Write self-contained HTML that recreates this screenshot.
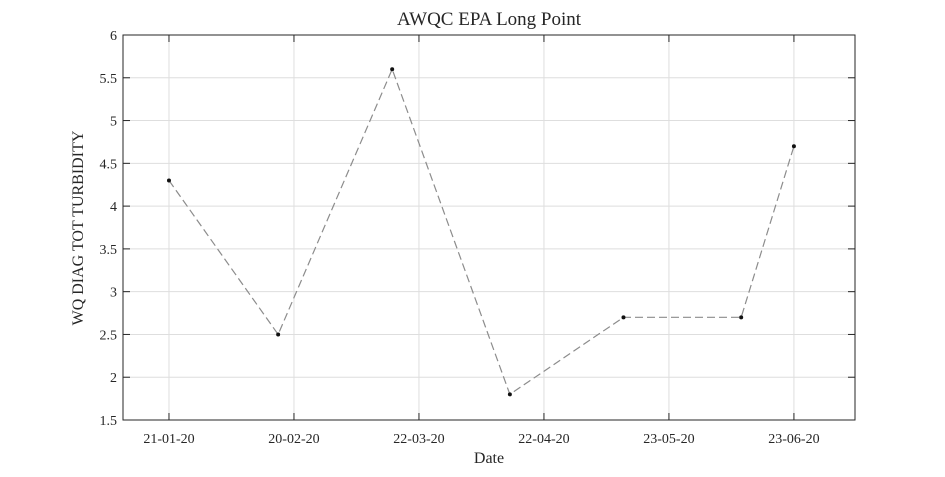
<!DOCTYPE html>
<html><head><meta charset="utf-8"><style>
html,body{margin:0;padding:0;background:#fff;}
svg text{font-family:"Liberation Serif",serif;fill:#262626;}
</style></head><body>
<svg id="chart" width="945" height="472" viewBox="0 0 945 472">
<rect x="0" y="0" width="945" height="472" fill="#fff"/>
<text x="489" y="25" font-size="19" text-anchor="middle">AWQC EPA Long Point</text>
<text x="489" y="463" font-size="16" text-anchor="middle">Date</text>
<text transform="translate(83,228) rotate(-90)" font-size="16" text-anchor="middle">WQ DIAG TOT TURBIDITY</text>
<g id="grid"></g><g id="axes"></g><g id="series"></g>
</svg>
<script>
// days since 2020-01-01 (day 0 = Jan 1)
const dates = [20, 46.9, 75, 104, 132, 161, 174];
const values = [4.3, 2.5, 5.6, 1.8, 2.7, 2.7, 4.7];
const xTicks = [20, 50.8, 81.6, 112.4, 143.2, 174];
const xTickLabels = ["21-01-20","20-02-20","22-03-20","22-04-20","23-05-20","23-06-20"];
const yTicks = [1.5,2,2.5,3,3.5,4,4.5,5,5.5,6];
const yTickLabels = ["1.5","2","2.5","3","3.5","4","4.5","5","5.5","6"];

const L=123,R=855,T=35,B=420;
const xMin=8.67,xMax=189.05,yMin=1.5,yMax=6;
const xs=d=>L+(d-xMin)/(xMax-xMin)*(R-L);
const ys=v=>B-(v-yMin)/(yMax-yMin)*(B-T);
const NS="http://www.w3.org/2000/svg";
function mk(tag,attrs,parent){const e=document.createElementNS(NS,tag);for(const k in attrs)e.setAttribute(k,attrs[k]);parent.appendChild(e);return e;}
const grid=document.getElementById('grid'),axes=document.getElementById('axes'),series=document.getElementById('series');
xTicks.forEach((t,i)=>{
  const x=xs(t);
  let g=mk('line',{x1:x,x2:x,y1:T,y2:B,stroke:'#dedede','stroke-width':1},grid);
  
  
  mk('line',{x1:x,x2:x,y1:B,y2:B-7,stroke:'#262626'},axes);
  mk('line',{x1:x,x2:x,y1:T,y2:T+7,stroke:'#262626'},axes);
  const tx=mk('text',{x:x,y:B+23,'font-size':14,'text-anchor':'middle'},axes);
  tx.textContent=xTickLabels[i];
  
  
});
yTicks.forEach((t,i)=>{
  const y=ys(t);
  let g=mk('line',{x1:L,x2:R,y1:y,y2:y,stroke:'#dedede','stroke-width':1},grid);
  
  
  mk('line',{x1:L,x2:L+7,y1:y,y2:y,stroke:'#262626'},axes);
  mk('line',{x1:R,x2:R-7,y1:y,y2:y,stroke:'#262626'},axes);
  const tx=mk('text',{x:L-6,y:y+5,'font-size':14,'text-anchor':'end'},axes);
  tx.textContent=yTickLabels[i];
  
  
});
const box=mk('rect',{x:L,y:T,width:R-L,height:B-T,fill:'none',stroke:'#262626','stroke-width':1},axes);


const pts=dates.map((d,i)=>xs(d)+','+ys(values[i])).join(' ');
const line=mk('polyline',{points:pts,fill:'none',stroke:'#8c8c8c','stroke-width':1.2,'stroke-dasharray':'8,4'},series);


dates.forEach((d,i)=>{
  const c=mk('circle',{cx:xs(d),cy:ys(values[i]),r:2,fill:'#111'},series);
  
  
});
</script>
</body></html>
